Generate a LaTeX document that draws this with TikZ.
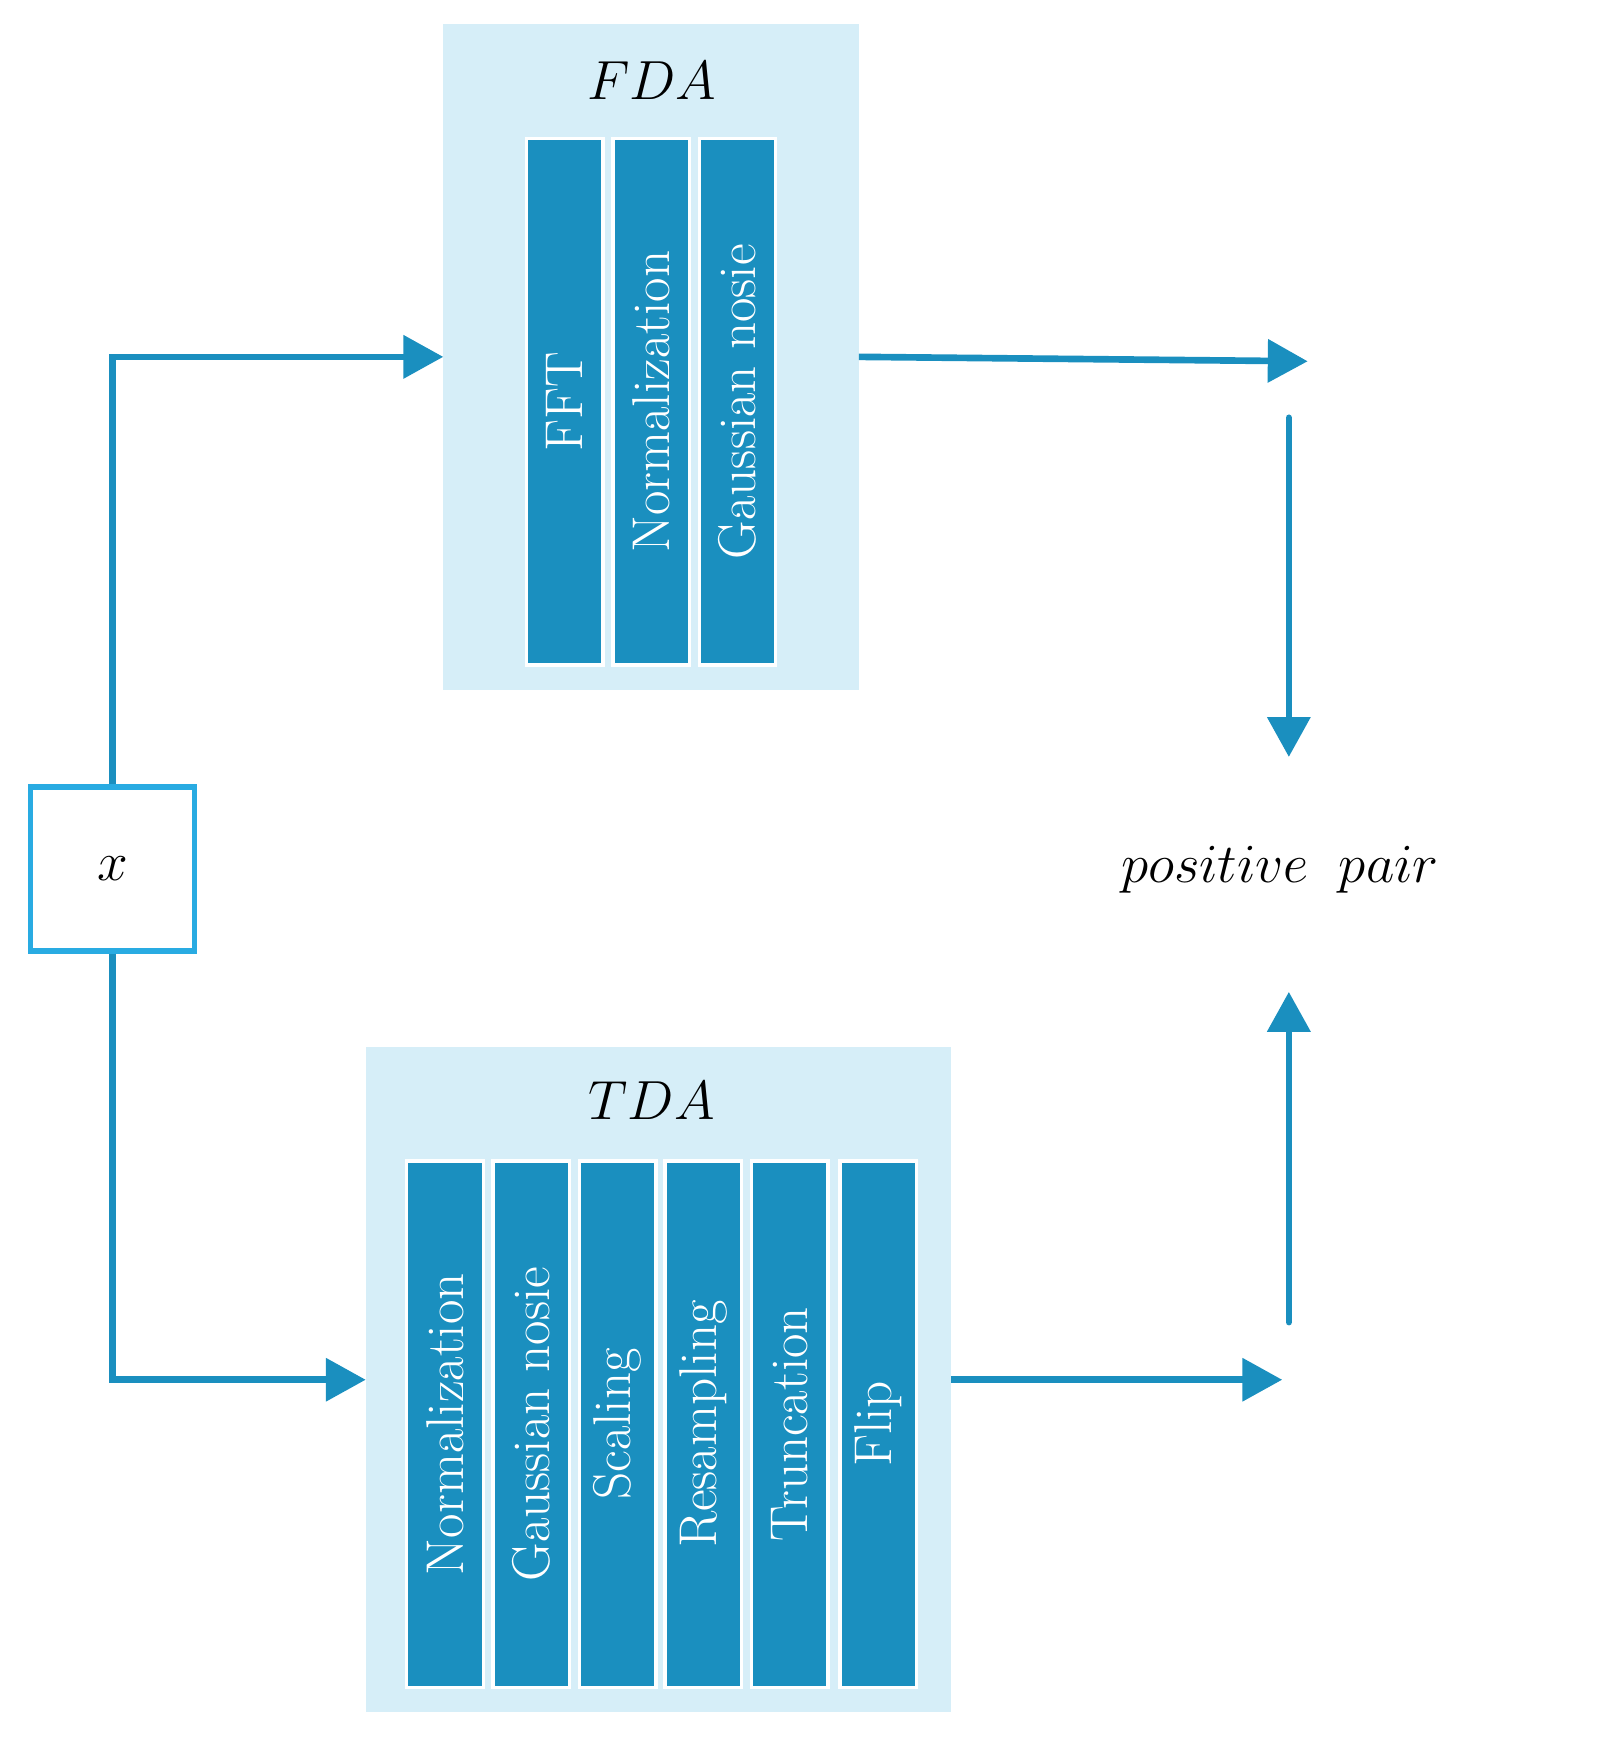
\documentclass[tikz,border=0pt]{standalone}
\usetikzlibrary{arrows.meta}
\definecolor{bg}{HTML}{D6EEF8}
\definecolor{bar}{HTML}{1A8FBF}
\definecolor{xb}{HTML}{29ABE2}
\begin{document}
\begin{tikzpicture}[x=0.5pt,y=-0.5pt,
  panel/.style={fill=bg,draw=none},
  barn/.style={fill=bar,draw=white,line width=1.5pt,minimum width=34.5pt,minimum height=237.5pt,inner sep=0pt},
  bt/.style={text=white,font=\fontsize{24}{28}\selectfont,rotate=90},
  arr/.style={draw=bar,line width=3pt,-{Triangle[length=18pt,width=19pt]}},
  ln/.style={draw=bar,line width=3pt}]
\useasboundingbox (0,0) rectangle (1460,1571);
\fill[bg] (400,22) rectangle (775,623);
\fill[bg] (330,945) rectangle (858,1545);
\node (fda) at (588,73) {\fontsize{30}{34}\selectfont$FDA$};
\node (tda) at (588,993) {\fontsize{30}{34}\selectfont$TDA$};
\coordinate (fdaL) at (400,322); \coordinate (fdaR) at (775,322);
\coordinate (tdaL) at (330,1245); \coordinate (tdaR) at (858,1245);
\foreach \n/\cx/\t in {f1/509.5/FFT,f2/587.5/Normalization,f3/665.5/Gaussian nosie}
  \node[barn] (\n) at (\cx,362.5) {\rotatebox{90}{\fontsize{24}{28}\selectfont\color{white}\t}};
\foreach \n/\cx/\t in {t1/401.5/Normalization,t2/479.5/Gaussian nosie,t3/557.5/Scaling,t4/634.5/Resampling,t5/712.5/Truncation,t6/792.5/Flip}
  \node[barn] (\n) at (\cx,1285) {\rotatebox{90}{\fontsize{24}{28}\selectfont\color{white}\t}};
\node[draw=xb,line width=2.5pt,minimum width=74pt,minimum height=74pt,inner sep=0pt] (x) at (101.5,784) {\fontsize{28}{32}\selectfont$x$};
\node (pp) at (1155,785) {\fontsize{45}{50}\selectfont$positive\ pair$};
\coordinate (e1) at (1180,326);
\coordinate (e2) at (1157,1245);
\coordinate (v1) at (1163,377); \coordinate (v1e) at (1163,683);
\coordinate (v2) at (1163,1193); \coordinate (v2e) at (1163,895);
\draw[arr] (x.north) |- (fdaL);
\draw[arr] (x.south) |- (tdaL);
\draw[arr] (fdaR) -- (e1);
\draw[arr] (tdaR) -- (e2);
\draw[arr,line cap=round] (v1) -- (v1e);
\draw[arr,line cap=round] (v2) -- (v2e);
\end{tikzpicture}
\end{document}
